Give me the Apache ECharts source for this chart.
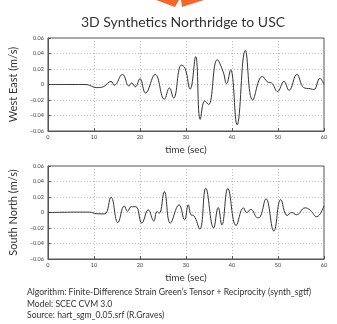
<!DOCTYPE html>
<html>
<head>
<meta charset="utf-8">
<script src="https://cdn.jsdelivr.net/npm/echarts@6/dist/echarts.min.js"></script>
<style>
  html, body { margin: 0; padding: 0; background: #fff; }
  #chart { width: 337px; height: 324px; }
</style>
</head>
<body>
<div id="chart"></div>
<script>
// time ticks and velocity ticks
const xTicks = [0, 10, 20, 30, 40, 50, 60];
const yTicks = [-0.06, -0.04, -0.02, 0, 0.02, 0.04, 0.06];

// West East component, [time (sec), velocity (m/s)] read at turning points
const westEast = [
  [0, 0], [8, 0], [9, -0.001], [10.5, -0.004], [12, -0.003], [13.7, 0.004],
  [14.4, -0.001], [16.2, 0.013], [17.6, -0.002], [18.2, 0.002], [19, -0.003],
  [20, 0.0075], [21.2, -0.011], [23.3, 0.013], [25.3, -0.019], [26.4, -0.0045],
  [27.3, -0.0175], [29, 0.025], [29.8, 0.021], [30.9, -0.006], [32.1, 0.036],
  [33.1, -0.045], [34.1, -0.021], [34.9, -0.026], [36.8, 0.032], [38.1, 0.016],
  [38.8, 0.001], [39.7, 0.019], [41.1, -0.052], [42.9, 0.044], [44.5, -0.02],
  [46.6, 0.0105], [47.8, 0.003], [48.6, 0.002], [49.9, -0.009], [51.3, 0.004],
  [52.4, -0.0075], [54.1, 0.013], [55.6, -0.004], [57, -0.0055], [57.8, -0.0065],
  [59.1, 0.0078], [60, 0]
];

// South North component
const southNorth = [
  [0, 0], [7.5, 0.0005], [9, 0.0005], [10.5, -0.0015], [12.3, -0.0018],
  [13.7, 0.0197], [15.2, -0.013], [16.6, 0.0085], [17.3, 0.0015], [18.1, 0.0075],
  [19.1, 0.0075], [20.4, -0.0137], [21.8, 0.0035], [23, -0.011], [23.7, 0.0013],
  [24.2, -0.001], [25.3, 0.027], [26.6, -0.0137], [28.5, 0.0099], [29.7, -0.0094],
  [30.5, 0.0099], [31.1, -0.003], [31.7, -0.004], [33, -0.0214], [34.3, 0.0313],
  [36, -0.02], [37, 0.0064], [37.8, -0.016], [39.1, 0.031], [40.9, -0.0167],
  [42.5, 0.006], [43.2, 0], [44.1, 0.004], [45.6, -0.0068], [46.2, -0.005],
  [47.4, 0.0176], [49.1, -0.024], [50.6, 0.0167], [52, -0.0039], [53, 0],
  [54, -0.003], [55.9, 0.006], [57, 0.003], [58.4, -0.0055], [60, 0.0088]
];

const footer = [
  'Algorithm: Finite-Difference Strain Green\u2019s Tensor + Reciprocity (synth_sgtf)',
  'Model: SCEC CVM 3.0',
  'Source: hart_sgm_0.05.srf (R.Graves)'
];

const font = 'Lato, "Open Sans", sans-serif';
const chart = echarts.init(document.getElementById('chart'));

const fmtY = v => (v === 0 ? '0' : (v < 0 ? '\u2212' : '') + Math.abs(v).toFixed(2));

const makeX = idx => ({
  type: 'value',
  gridIndex: idx,
  min: xTicks[0],
  max: xTicks[xTicks.length - 1],
  interval: 10,
  name: 'time (sec)',
  nameLocation: 'middle',
  nameGap: 14,
  nameTextStyle: { fontSize: 10, color: '#333', fontFamily: font },
  axisLine: { onZero: false, lineStyle: { color: '#555', width: 1 } },
  axisTick: { inside: true, length: 3, lineStyle: { color: '#555' } },
  axisLabel: { fontSize: 5.5, color: '#444', margin: 3, fontFamily: font },
  splitLine: { show: true, lineStyle: { color: '#aaa', type: [1, 2], width: 0.8 } }
});

const makeY = (idx, name) => ({
  type: 'value',
  gridIndex: idx,
  min: yTicks[0],
  max: yTicks[yTicks.length - 1],
  interval: 0.02,
  name: name,
  nameLocation: 'middle',
  nameRotate: 90,
  nameGap: 17,
  nameTextStyle: { fontSize: 11, color: '#333', fontFamily: font },
  axisLine: { show: true, onZero: false, lineStyle: { color: '#555', width: 1 } },
  axisTick: { show: true, inside: true, length: 3, lineStyle: { color: '#555' } },
  axisLabel: { fontSize: 5.5, color: '#444', margin: 4, fontFamily: font, formatter: fmtY },
  splitLine: { show: true, lineStyle: { color: '#aaa', type: [1, 2], width: 0.8 } }
});

const lineSeries = (idx, data) => ({
  type: 'line',
  xAxisIndex: idx,
  yAxisIndex: idx,
  data: data,
  smooth: 0.45,
  showSymbol: false,
  lineStyle: { color: '#333', width: 1 },
  silent: true
});

chart.setOption({
  animation: false,
  grid: [
    { left: 44, right: 13, top: 38, height: 93, show: true, borderColor: '#555', borderWidth: 1 },
    { left: 44, right: 13, top: 166, height: 93, show: true, borderColor: '#555', borderWidth: 1 }
  ],
  xAxis: [makeX(0), makeX(1)],
  yAxis: [makeY(0, 'West East (m/s)'), makeY(1, 'South North (m/s)')],
  series: [lineSeries(0, westEast), lineSeries(1, southNorth)],
  graphic: [
    // orange arrow tip cut off at the top edge
    { type: 'polygon', shape: { points: [[156, 0], [179, 0], [175, 7]] }, style: { fill: '#f4662a' } },
    { type: 'polygon', shape: { points: [[181, 0], [204, 0], [182, 7]] }, style: { fill: '#f4662a' } },
    {
      type: 'text',
      x: 183,
      y: 22,
      style: {
        text: '3D Synthetics Northridge to USC',
        fontSize: 14,
        fill: '#333',
        fontFamily: font,
        textAlign: 'center',
        textVerticalAlign: 'middle'
      }
    }
  ].concat(footer.map((t, i) => ({
    type: 'text',
    left: 27,
    top: 288 + i * 11.5,
    style: { text: t, fontSize: 8.6, fill: '#333', fontFamily: font }
  })))
});
</script>
</body>
</html>
